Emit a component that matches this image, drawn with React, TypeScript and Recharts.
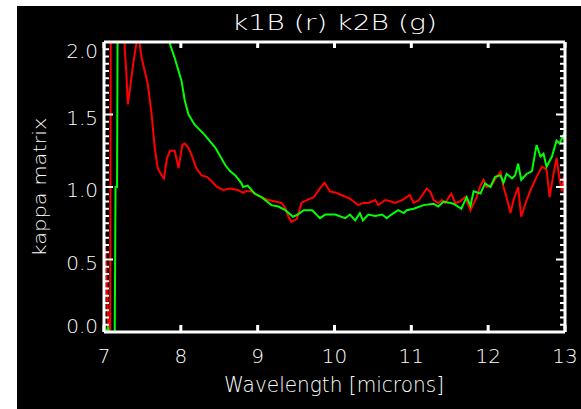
import React from 'react';
import { LineChart, Line, XAxis, YAxis } from 'recharts';

// k1B (red)
const redX = [
  7.0, 7.02, 7.04, 7.06, 7.08, 7.09, 7.25, 7.27, 7.29, 7.31, 7.34, 7.38, 7.43, 7.46, 7.49, 7.57, 7.62, 7.66,
  7.7, 7.75, 7.78, 7.82, 7.86, 7.92, 7.97, 8.02, 8.05, 8.1, 8.14, 8.2, 8.27, 8.34, 8.4, 8.47, 8.55, 8.64,
  8.74, 8.81, 8.84, 8.92, 9.0, 9.05, 9.14, 9.23, 9.31, 9.36, 9.4, 9.44, 9.51, 9.57, 9.64, 9.73, 9.81, 9.87,
  9.94, 10.02, 10.09, 10.2, 10.31, 10.37, 10.44, 10.53, 10.57, 10.66, 10.74, 10.79, 10.88, 10.98, 11.03,
  11.1, 11.2, 11.25, 11.29, 11.35, 11.4, 11.44, 11.52, 11.57, 11.63, 11.7, 11.77, 11.85, 11.9, 11.94, 11.98,
  12.04, 12.11, 12.16, 12.2, 12.24, 12.29, 12.33, 12.39, 12.43, 12.5, 12.57, 12.63, 12.7, 12.76, 12.8,
  12.85, 12.89, 12.93, 12.96, 12.98, 13.0,
];
const redY = [
  0.66, 0.55, 0.25, 0.0, 0.0, 2.6, 2.6, 1.95, 1.8, 1.57, 1.68, 1.85, 2.02, 2.0, 1.89, 1.71, 1.5, 1.27,
  1.13, 1.08, 1.06, 1.2, 1.25, 1.25, 1.13, 1.29, 1.3, 1.27, 1.22, 1.13, 1.08, 1.07, 1.04, 1.0, 0.98, 0.99,
  0.98, 0.96, 0.97, 0.97, 0.94, 0.93, 0.91, 0.9, 0.89, 0.855, 0.795, 0.76, 0.78, 0.89, 0.91, 0.93, 0.99, 1.03,
  0.97, 0.96, 0.945, 0.92, 0.875, 0.89, 0.89, 0.91, 0.875, 0.91, 0.9, 0.89, 0.91, 0.945, 0.89,
  0.91, 0.99, 0.965, 0.91, 0.89, 0.91, 0.89, 0.955, 0.89, 0.9, 0.93, 0.84, 0.93, 1.01, 1.05, 1.0,
  1.01, 1.07, 1.105, 1.0, 0.93, 0.82, 0.91, 1.0, 0.795, 0.91, 1.0, 1.07, 1.14, 1.12, 0.93,
  1.09, 1.2, 1.05, 0.97, 1.07, 1.04,
];

// k2B (green)
const greenX = [
  7.0, 7.03, 7.05, 7.07, 7.14, 7.15, 7.17, 7.18, 7.83, 7.85, 7.92, 8.01, 8.05, 8.1, 8.18, 8.31, 8.45, 8.58,
  8.64, 8.71, 8.79, 8.81, 8.87, 8.96, 9.05, 9.18, 9.27, 9.36, 9.46, 9.52, 9.6, 9.71, 9.81, 9.88, 10.01,
  10.14, 10.2, 10.27, 10.33, 10.37, 10.44, 10.53, 10.62, 10.68, 10.74, 10.83, 10.9, 10.94, 11.03, 11.16,
  11.29, 11.35, 11.42, 11.55, 11.65, 11.72, 11.77, 11.81, 11.9, 11.96, 12.03, 12.09, 12.16, 12.2, 12.24,
  12.31, 12.35, 12.39, 12.43, 12.5, 12.57, 12.63, 12.68, 12.72, 12.76, 12.83, 12.89, 12.93, 12.98, 13.0,
];
const greenY = [
  0.0, 0.0, 0.03, 0.0, 0.0, 1.0, 1.0, 2.6, 2.6, 2.0, 1.89, 1.73, 1.6, 1.5, 1.43, 1.36, 1.27, 1.15,
  1.11, 1.08, 1.025, 1.0, 1.01, 0.955, 0.93, 0.875, 0.865, 0.84, 0.795, 0.81, 0.84, 0.84, 0.785, 0.81, 0.81,
  0.785, 0.81, 0.77, 0.82, 0.77, 0.81, 0.8, 0.81, 0.785, 0.81, 0.84, 0.82, 0.84, 0.85, 0.875,
  0.885, 0.865, 0.9, 0.885, 0.85, 0.93, 0.87, 0.97, 0.955, 1.025, 1.0, 1.07, 1.08, 1.03, 1.09,
  1.06, 1.08, 1.16, 1.05, 1.09, 1.11, 1.29, 1.21, 1.23, 1.14, 1.21, 1.32, 1.3, 1.36, 1.3,
];

const xTicks = [7, 8, 9, 10, 11, 12, 13];
const yMinorTicks = Array.from({ length: 41 }, (_, i) => Math.round(i * 5) / 100);

const redData = redX.map((x, i) => ({ x, y: redY[i] }));
const greenData = greenX.map((x, i) => ({ x, y: greenY[i] }));

const WHITE = '#ffffff';
const FONT = 'DejaVu Sans';
const WEIGHT = 200;

const isMajor = (v: number) => Math.abs(v * 2 - Math.round(v * 2)) < 1e-6;

const BottomTick = ({ x, y, payload }: any) => (
  <g>
    <line x1={x} x2={x} y1={y} y2={y - 7} stroke={WHITE} strokeWidth={3} />
    <text x={x} y={y + 31} textAnchor="middle" fill={WHITE} fontSize={20} fontFamily={FONT} fontWeight={WEIGHT}>
      {payload.value}
    </text>
  </g>
);

const TopTick = ({ x, y }: any) => (
  <line x1={x} x2={x} y1={y} y2={y + 6} stroke={WHITE} strokeWidth={3} />
);

const LeftTick = ({ x, y, payload }: any) => {
  const v = payload.value;
  const major = isMajor(v);
  let dy = 10;
  if (v >= 2) dy = 16;
  if (v <= 0) dy = 1;
  return (
    <g>
      <line x1={x} x2={x + (major ? 9 : 5)} y1={y} y2={y} stroke={WHITE} strokeWidth={2} />
      {major && (
        <text x={x - 6} y={y + dy} textAnchor="end" fill={WHITE} fontSize={20} fontFamily={FONT} fontWeight={WEIGHT}>
          {v.toFixed(1)}
        </text>
      )}
    </g>
  );
};

const RightTick = ({ x, y, payload }: any) => {
  const major = isMajor(payload.value);
  return <line x1={x} x2={x - (major ? 9 : 5)} y1={y} y2={y} stroke={WHITE} strokeWidth={2} />;
};

export default function App() {
  return (
    <div style={{ position: 'fixed', left: 0, top: 0, width: 581, height: 409, background: '#fff' }}>
      <div style={{ position: 'absolute', left: 17, top: 6, width: 564, height: 403, background: '#000' }}>
        <LineChart width={564} height={403} margin={{ top: 35, right: 15, bottom: 17, left: 27 }}>
          <XAxis
            dataKey="x"
            type="number"
            domain={[7, 13]}
            ticks={xTicks}
            interval={0}
            allowDataOverflow
            height={60}
            tickSize={0}
            tickMargin={0}
            tickLine={false}
            axisLine={{ stroke: WHITE, strokeWidth: 3 }}
            tick={<BottomTick />}
          />
          <XAxis
            xAxisId="top"
            orientation="top"
            dataKey="x"
            type="number"
            domain={[7, 13]}
            ticks={xTicks}
            interval={0}
            allowDataOverflow
            height={1}
            tickSize={0}
            tickMargin={0}
            tickLine={false}
            axisLine={{ stroke: WHITE, strokeWidth: 3 }}
            tick={<TopTick />}
          />
          <YAxis
            type="number"
            domain={[0, 2]}
            ticks={yMinorTicks}
            interval={0}
            allowDataOverflow
            width={60}
            tickSize={0}
            tickMargin={0}
            tickLine={false}
            axisLine={{ stroke: WHITE, strokeWidth: 3 }}
            tick={<LeftTick />}
          />
          <YAxis
            yAxisId="right"
            orientation="right"
            type="number"
            domain={[0, 2]}
            ticks={yMinorTicks}
            interval={0}
            allowDataOverflow
            width={1}
            tickSize={0}
            tickMargin={0}
            tickLine={false}
            axisLine={{ stroke: WHITE, strokeWidth: 3 }}
            tick={<RightTick />}
          />
          <Line
            data={redData}
            dataKey="y"
            type="linear"
            stroke="#ff0000"
            strokeWidth={2}
            dot={false}
            isAnimationActive={false}
          />
          <Line
            data={greenData}
            dataKey="y"
            xAxisId="top"
            yAxisId="right"
            type="linear"
            stroke="#00ff00"
            strokeWidth={2}
            dot={false}
            isAnimationActive={false}
          />
        </LineChart>
      </div>
      <svg
        width={581}
        height={409}
        style={{ position: 'absolute', left: 0, top: 0, pointerEvents: 'none' }}
      >
        <text x={232} y={30} fill={WHITE} fontSize={22} fontFamily={FONT} fontWeight={WEIGHT} textLength={205} lengthAdjust="spacingAndGlyphs">
          k1B (r) k2B (g)
        </text>
        <text x={224} y={392} fill={WHITE} fontSize={21} fontFamily={FONT} fontWeight={WEIGHT} textLength={220} lengthAdjust="spacingAndGlyphs">
          Wavelength [microns]
        </text>
        <text
          x={46}
          y={187}
          fill={WHITE}
          fontSize={18}
          fontFamily={FONT}
          fontWeight={WEIGHT}
          textAnchor="middle"
          textLength={139}
          lengthAdjust="spacingAndGlyphs"
          transform="rotate(-90 46 187)"
        >
          kappa matrix
        </text>
      </svg>
    </div>
  );
}
